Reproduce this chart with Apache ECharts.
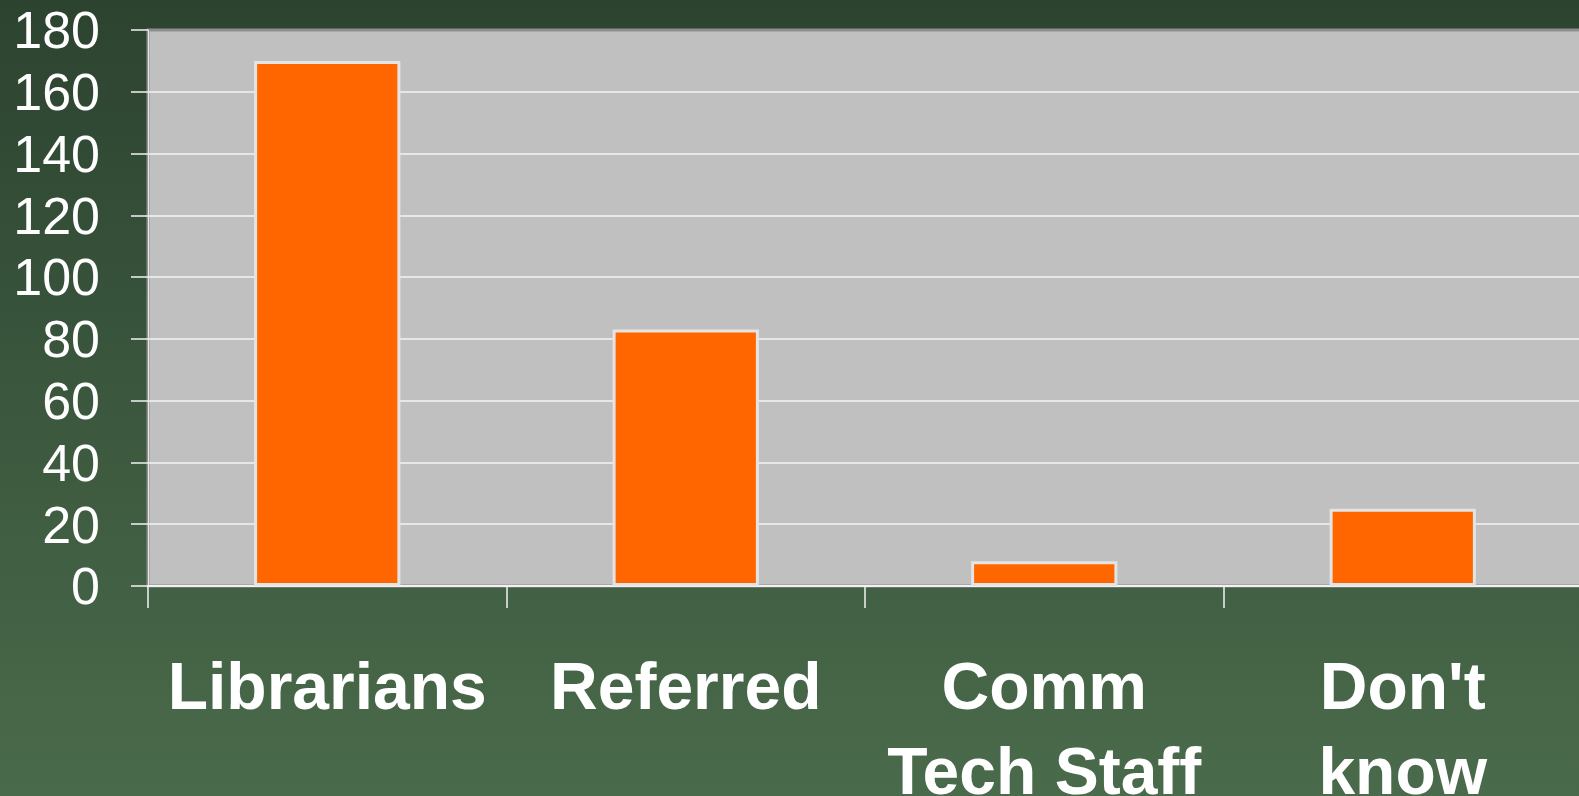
<!DOCTYPE html>
<html>
<head>
<meta charset="utf-8">
<script src="https://cdn.jsdelivr.net/npm/echarts@6/dist/echarts.min.js"></script>
<style>
html, body { margin: 0; padding: 0; }
#chart { width: 1579px; height: 796px; }
</style>
</head>
<body>
<div id="chart"></div>
<script>
// who helped the users
var categories = ['Librarians', 'Referred', 'Comm\nTech Staff', 'Don\'t\nknow'];
var counts = [170, 83, 8, 25];
var yMin = 0, yMax = 180, yStep = 20;

var chart = echarts.init(document.getElementById('chart'));
var option = {
    backgroundColor: {
        type: 'linear', x: 0, y: 0, x2: 0, y2: 1,
        colorStops: [
            { offset: 0, color: '#2c4330' },
            { offset: 1, color: '#4a6b4b' }
        ]
    },
    textStyle: { fontFamily: 'Liberation Sans, Arial, sans-serif' },
    grid: {
        left: 148,
        top: 30,
        bottom: 210,
        width: 1434,
        outerBoundsMode: 'none',
        containLabel: false,
        show: true,
        backgroundColor: '#c0c0c0',
        borderColor: '#8f8f8f',
        borderWidth: 3
    },
    xAxis: {
        type: 'category',
        data: categories,
        axisLine: { show: true, lineStyle: { color: '#f2f2f2', width: 2 } },
        axisTick: { show: true, alignWithLabel: false, length: 22, lineStyle: { color: '#f2f2f2', width: 1.5 } },
        axisLabel: {
            color: '#ffffff',
            fontSize: 66,
            fontWeight: 'bold',
            lineHeight: 85,
            margin: 62,
            interval: 0
        }
    },
    yAxis: {
        type: 'value',
        min: yMin,
        max: yMax,
        interval: yStep,
        axisLine: { show: true, lineStyle: { color: '#e6e6e6', width: 1 } },
        axisTick: { show: true, length: 17, lineStyle: { color: '#f2f2f2', width: 1.5 } },
        axisLabel: {
            color: '#ffffff',
            margin: 48,
            formatter: '{v|{value}}',
            rich: {
                v: { color: '#ffffff', fontSize: 52, padding: [8, 0, 0, 0] }
            }
        },
        splitLine: {
            show: true,
            showMinLine: false,
            showMaxLine: false,
            lineStyle: { color: '#f4f4f4', width: 1.5 }
        }
    },
    series: [
        {
            type: 'bar',
            data: counts,
            barWidth: '40.8%',
            itemStyle: {
                color: '#ff6600',
                borderColor: '#e4e4e4',
                borderWidth: 3
            }
        }
    ]
};
chart.setOption(option);
</script>
</body>
</html>
